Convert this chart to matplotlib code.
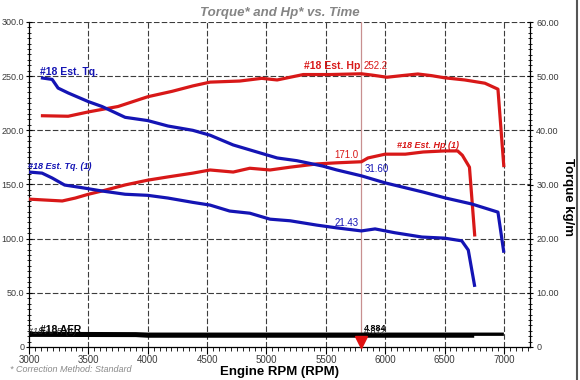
import matplotlib
matplotlib.use("Agg")
import matplotlib.pyplot as plt
from matplotlib.ticker import MultipleLocator, FixedLocator
from matplotlib.lines import Line2D

plt.rcParams['font.family'] = ['Liberation Sans', 'DejaVu Sans']

# --- data ---
# upper run: Hp (left axis) and torque in kg/m (right axis)
hp1_rpm = [3100, 3330, 3500, 3750, 4000, 4205, 4380, 4525, 4775, 4960, 5090, 5200,
           5310, 5535, 5800, 5890, 6015, 6140, 6275, 6390, 6500, 6670, 6840, 6950, 7000]
hp1 = [213.5, 213, 217, 222, 231, 236, 241, 244.5, 245.5, 248, 246.5, 249,
       251.5, 251.5, 252.2, 251, 249, 250.5, 252, 250.5, 248.5, 246.5, 243.5, 238, 166]

tq1_rpm = [3100, 3195, 3245, 3330, 3500, 3615, 3810, 4000, 4170, 4380, 4525, 4720, 4920,
           5090, 5255, 5475, 5590, 5800, 6000, 6170, 6320, 6510, 6730, 6950, 7000]
tq1 = [49.7, 49.4, 47.8, 46.9, 45.3, 44.4, 42.4, 41.8, 40.8, 40.0, 39.1, 37.3, 36.0,
       34.9, 34.4, 33.4, 32.7, 31.6, 30.3, 29.4, 28.6, 27.5, 26.4, 24.9, 17.4]

# lower run "(1)"
hp2_rpm = [3000, 3130, 3280, 3390, 3500, 3615, 3810, 4000, 4170, 4380, 4525, 4720, 4860, 5030,
           5200, 5425, 5590, 5800, 5855, 6000, 6170, 6320, 6500, 6610, 6650, 6710, 6755]
hp2 = [136.5, 135.7, 134.8, 137.5, 141, 144, 149.6, 154, 157, 160.5, 163.4, 161.5, 165, 163.4,
       166, 169, 170, 171.0, 174.5, 178, 178, 180, 181, 181, 177, 166, 102]

tq2_rpm = [3000, 3110, 3195, 3300, 3450, 3615, 3810, 4000, 4170, 4380, 4525, 4690, 4860,
           5030, 5200, 5425, 5590, 5800, 5915, 6080, 6310, 6500, 6645, 6700, 6755]
tq2 = [32.3, 32.1, 31.2, 29.9, 29.4, 28.8, 28.2, 28.0, 27.5, 26.7, 26.2, 25.1, 24.7,
       23.6, 23.3, 22.5, 22.0, 21.43, 21.8, 21.1, 20.3, 20.1, 19.6, 17.9, 11.1]

# AFR traces (drawn on the left scale, they sit right on the floor)
afr1_rpm = [3000, 3900, 4000, 7000]
afr1 = [12.5, 12.2, 11.8, 11.8]
afr2_rpm = [3000, 3900, 4000, 6750]
afr2 = [11.0, 10.8, 10.2, 10.2]

cursor_rpm = 5800
x_ticks = [3000, 3500, 4000, 4500, 5000, 5500, 6000, 6500, 7000]
hp_ticks = [0, 50, 100, 150, 200, 250, 300]
hp_labels = ["0", "50.0", "100.0", "150.0", "200.0", "250.0", "300.0"]
tq_ticks = [0, 10, 20, 30, 40, 50, 60]
tq_labels = ["0", "10.00", "20.00", "30.00", "40.00", "50.00", "60.00"]

RED = "#d81818"
BLUE = "#1414b4"
GRID = "#3c3c3c"
TICKC = "#3a3a3a"

fig = plt.figure(figsize=(5.8, 3.8), dpi=100)
ax = fig.add_axes([29 / 580, 1 - 347 / 380, (530 - 29) / 580, (347 - 22) / 380])
ax2 = ax.twinx()

ax.set_xlim(3000, 7220)
ax.set_ylim(0, 300)
ax2.set_ylim(0, 60)

# grid
for x in x_ticks[1:]:
    ax.axvline(x, color=GRID, lw=0.8, ls=(0, (5, 2)), zorder=0)
for y in hp_ticks[1:]:
    ax.axhline(y, color=GRID, lw=0.8, ls=(0, (5, 2)), zorder=0)

# cursor
ax.axvline(cursor_rpm, color="#c89090", lw=0.9, zorder=1)

ax.plot(hp1_rpm, hp1, color=RED, lw=2.3, zorder=3, solid_capstyle="butt")
ax.plot(hp2_rpm, hp2, color=RED, lw=2.3, zorder=3, solid_capstyle="butt")
ax2.plot(tq1_rpm, tq1, color=BLUE, lw=2.3, zorder=3, solid_capstyle="butt")
ax2.plot(tq2_rpm, tq2, color=BLUE, lw=2.3, zorder=3, solid_capstyle="butt")
ax.plot(afr1_rpm, afr1, color="black", lw=2.4, zorder=3, solid_capstyle="butt")
ax.plot(afr2_rpm, afr2, color="black", lw=2.6, zorder=3, solid_capstyle="butt")

ax.plot([cursor_rpm], [4.2], marker="v", color="#e01010", markersize=9,
        clip_on=False, zorder=5, linestyle="none")

# trace labels
ax.text(3090, 254, "#18 Est. Tq.", color=BLUE, fontsize=7.5, fontweight="bold",
        ha="left", va="center", zorder=4)
ax.text(2992, 167, "#18 Est. Tq. (1)", color=BLUE, fontsize=6.5, fontweight="bold",
        style="italic", ha="left", va="center", zorder=4)
ax.text(5790, 259.5, "#18 Est. Hp", color=RED, fontsize=7.5, fontweight="bold",
        ha="right", va="center", zorder=4)
ax.text(5818, 259.5, "252.2", color=RED, fontsize=7, ha="left", va="center", zorder=4)
ax.text(6100, 186, "#18 Est. Hp (1)", color=RED, fontsize=6.5, fontweight="bold",
        style="italic", ha="left", va="center", zorder=4)
ax.text(5775, 177, "171.0", color=RED, fontsize=7, ha="right", va="center", zorder=4)
ax.text(5825, 164, "31.60", color=BLUE, fontsize=7, ha="left", va="center", zorder=4)
ax.text(5775, 114.5, "21.43", color=BLUE, fontsize=7, ha="right", va="center", zorder=4)
ax.text(3095, 16, "#18 AFR", color="black", fontsize=7.5, fontweight="bold",
        ha="left", va="center", zorder=4)
ax.text(2995, 14, "#18 AFR (1)", color="#222222", fontsize=6.5, style="italic",
        ha="left", va="center", zorder=4)
ax.text(5822, 17, "4.884", color="black", fontsize=6.5, fontweight="bold",
        ha="left", va="center", zorder=4)
ax.text(5818, 14.5, "4.812", color="#222222", fontsize=6.5,
        ha="left", va="center", zorder=4)

# axes styling
for a in (ax, ax2):
    a.spines["top"].set_visible(False)
    a.patch.set_visible(False)
ax.spines["right"].set_visible(False)
ax2.spines["left"].set_visible(False)
ax2.spines["bottom"].set_visible(False)
ax.spines["left"].set_linewidth(0.9)
ax.spines["bottom"].set_linewidth(0.9)
ax2.spines["right"].set_linewidth(0.9)

ax.xaxis.set_major_locator(FixedLocator(x_ticks))
ax.set_xticklabels([str(x) for x in x_ticks])
ax.xaxis.set_minor_locator(MultipleLocator(50))
ax.yaxis.set_major_locator(FixedLocator(hp_ticks))
ax.set_yticklabels(hp_labels)
ax.yaxis.set_minor_locator(MultipleLocator(5))
ax2.yaxis.set_major_locator(FixedLocator(tq_ticks))
ax2.set_yticklabels(tq_labels)
ax2.yaxis.set_minor_locator(MultipleLocator(1))

ax.tick_params(axis="x", which="major", direction="out", length=5, width=0.8,
               labelsize=7, labelcolor=TICKC, pad=1)
ax.tick_params(axis="x", which="minor", direction="out", length=3, width=0.6)
ax.tick_params(axis="y", which="major", direction="inout", length=5, width=0.8,
               labelsize=6.5, labelcolor=TICKC, pad=1)
ax.tick_params(axis="y", which="minor", direction="inout", length=3, width=0.6)
ax2.tick_params(axis="y", which="major", direction="inout", length=5, width=0.8,
                labelsize=6.5, labelcolor=TICKC, pad=2)
ax2.tick_params(axis="y", which="minor", direction="inout", length=3, width=0.6)

ax.set_title("Torque* and Hp* vs. Time", color="#858585", fontsize=9.5,
             fontweight="bold", style="italic", pad=4)
fig.text(280 / 580, 1 - 372 / 380, "Engine RPM (RPM)", fontsize=9.5, fontweight="bold",
         ha="center", va="center")
fig.text(568 / 580, 1 - 197 / 380, "Torque kg/m", fontsize=9.5, fontweight="bold",
         rotation=270, ha="center", va="center")
fig.text(10 / 580, 1 - 370 / 380, "* Correction Method: Standard", fontsize=6.5,
         style="italic", color="#8a8a8a", ha="left", va="center")

# image frame on the right edge
fig.add_artist(Line2D([577 / 580, 577 / 580], [0, 1], transform=fig.transFigure,
                      color="#555555", lw=1.5))

fig.savefig("out.png", dpi=100)
